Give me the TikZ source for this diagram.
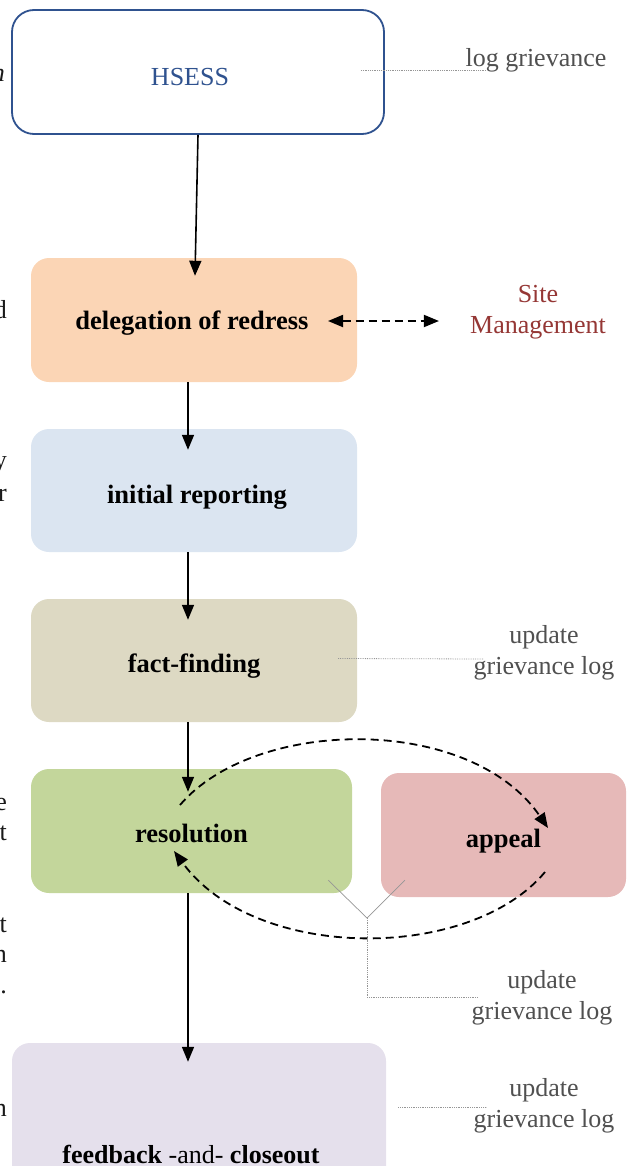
\documentclass[tikz,border=0pt]{standalone}
\usepackage{fontspec}
\setmainfont{Liberation Serif}
\usetikzlibrary{arrows.meta,calc}
\definecolor{hblue}{RGB}{47,82,143}
\definecolor{cpeach}{RGB}{251,213,181}
\definecolor{cblue}{RGB}{219,229,241}
\definecolor{ctan}{RGB}{221,217,195}
\definecolor{cgreen}{RGB}{195,214,155}
\definecolor{cpink}{RGB}{230,185,184}
\definecolor{clav}{RGB}{229,224,236}
\definecolor{ngray}{RGB}{80,80,80}
\definecolor{sred}{RGB}{149,55,53}
\definecolor{lgray}{RGB}{150,150,150}
\begin{document}
\begin{tikzpicture}[x=1pt,y=-1pt,
  every node/.style={font=\fontsize{26}{31}\selectfont},
  stepbox/.style={rounded corners=18pt, inner sep=0pt, minimum height=124pt},
  boxtext/.style={inner sep=0pt, font=\fontsize{26.5}{31}\selectfont\bfseries},
  note/.style={text=ngray, align=center, inner sep=0pt},
  frag/.style={inner sep=0pt, text=black!90},
  flow/.style={line width=1.6pt, -{Triangle[length=15pt,width=12pt]}},
  dflow/.style={line width=1.8pt, dash pattern=on 8pt off 5pt, -{Triangle[length=15pt,width=12pt]}},
  callout/.style={lgray, line width=0.8pt, densely dotted},
  calloutsolid/.style={lgray, line width=0.7pt}
]
\useasboundingbox (0,0) rectangle (629,1166);
% boxes
\node[stepbox, draw=hblue, line width=1.8pt, fill=white, rounded corners=22pt, minimum width=372pt] (hsess) at (198,72) {};
\node[stepbox, fill=cpeach, minimum width=326pt] (deleg) at (194,320) {};
\node[stepbox, fill=cblue, minimum width=326pt, minimum height=123pt] (init) at (194,490.5) {};
\node[stepbox, fill=ctan, minimum width=326pt, minimum height=123pt] (fact) at (194,660.5) {};
\node[stepbox, fill=cgreen, minimum width=321pt] (res) at (191.5,831) {};
\node[stepbox, fill=cpink, minimum width=245pt] (appeal) at (503.5,835) {};
\node[stepbox, fill=clav, minimum width=374pt, minimum height=150pt] (fb) at (199,1118) {};
% box texts
\node[inner sep=0pt, text=hblue] (hsesst) at ($(hsess.center)+(-8,5)$) {HSESS};
\node[boxtext] (delegt) at ($(deleg.center)+(-2,3)$) {delegation of redress};
\node[boxtext] (initt) at ($(init.center)+(3,7)$) {initial reporting};
\node[boxtext] (factt) at ($(fact.center)+(0,6)$) {fact-finding};
\node[boxtext] (rest) at ($(res.center)+(0,2)$) {resolution};
\node[boxtext] (appealt) at ($(appeal.center)+(0,6)$) {appeal};
\node[inner sep=0pt, anchor=base] (fbtext) at (191,1163) {\textbf{feedback} -and- \textbf{closeout}};
% side texts
\node[note, anchor=base] (log1) at (536,67) {log grievance};
\node[note, text=sred] (site) at (538,312) {Site\\Management};
\node[note] (upd1) at (544,653) {update\\grievance log};
\node[note] (upd2) at (542,998) {update\\grievance log};
\node[note] (upd3) at (544,1106) {update\\grievance log};
% left-edge fragments
\node[frag, anchor=base east] (fa) at (5,82) {\itshape n};
\node[frag, anchor=base east] (fb1) at (7,318) {d};
\node[frag, anchor=base east] (fc) at (7,468) {y};
\node[frag, anchor=base east] (fd) at (7,501) {r};
\node[frag, anchor=base east] (fe) at (7,810) {e};
\node[frag, anchor=base east] (ff) at (7,840) {t};
\node[frag, anchor=base east] (fg) at (7,932) {t};
\node[frag, anchor=base east] (fh) at (7,962) {n};
\node[frag, anchor=base east] (fi) at (7,993) {.};
\node[frag, anchor=base east] (fj) at (7,1116) {n};
% main flow
\draw[flow] (hsess.south) -- ($(deleg.north)+(1,18)$);
\draw[flow] (deleg.south -| 188,0) -- ($(init.north -| 188,0)+(0,21)$);
\draw[flow] (init.south -| 188,0) -- ($(fact.north -| 188,0)+(0,21)$);
\draw[flow] (fact.south -| 188,0) -- ($(res.north -| 188,0)+(0,23)$);
\draw[flow] (res.south -| 188,0) -- ($(fb.north -| 188,0)+(0,19)$);
% site management
\coordinate (dl) at ($(deleg.center)+(134,1)$);
\coordinate (sm) at ($(site.west)+(-31,9)$);
\draw[dflow, {Triangle[length=15pt,width=12pt]}-{Triangle[length=15pt,width=12pt]}] (dl) -- (sm);
% appeal loop
\coordinate (r1) at ($(res.center)+(-11.5,-26)$);
\coordinate (a1) at ($(appeal.center)+(44.5,-7)$);
\coordinate (a2) at ($(appeal.center)+(41.5,37)$);
\coordinate (r2) at ($(res.center)+(-17.5,20)$);
\draw[dflow] (r1) .. controls (255,717) and (470,714) .. (a1);
\draw[dflow] (a2) .. controls (470,962) and (255,962) .. (r2);
% callouts
\draw[callout] ($(hsess.east)+(-24,-2)$) -- ($(log1.base west)+(20,3)$);
\draw[callout] ($(fact.east)+(-19,-2)$) -- ($(upd1.west)+(10,6)$);
\coordinate (yj) at (367,918);
\draw[calloutsolid] ($(res.south east)+(-24,-13)$) -- (yj);
\draw[calloutsolid] ($(appeal.south west)+(24,-17)$) -- (yj);
\draw[callout] (yj) -- (367,997) -- ($(upd2.west)+(6,-1)$);
\draw[callout] ($(fb.east)+(12,-11)$) -- ($(upd3.west)+(13,1)$);
\end{tikzpicture}
\end{document}
